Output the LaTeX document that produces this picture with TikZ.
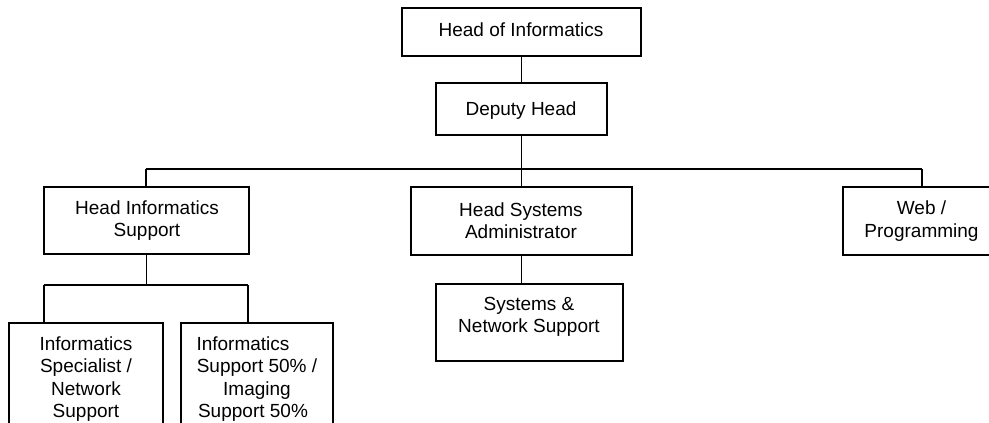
\documentclass[tikz,border=0pt]{standalone}
\usepackage{fontspec}
\setmainfont{Liberation Sans}
\begin{document}
\begin{tikzpicture}[x=1pt,y=-1pt,
  box/.style={draw=black, line width=1.6pt, inner sep=0pt},
  txt/.style={align=center, inner sep=0pt, font=\fontsize{19}{22.5}\selectfont},
  conn/.style={line width=1.6pt}]
\clip (0,0) rectangle (989,423);
\fill[white] (0,0) rectangle (989,423);
% boxes
\node[box, minimum width=239pt, minimum height=48pt] (hoi) at (521.5,32) {};
\node[box, minimum width=171pt, minimum height=52pt] (dh) at (521.5,109) {};
\node[box, minimum width=205pt, minimum height=67pt] (his) at (146.5,220.5) {};
\node[box, minimum width=221pt, minimum height=68pt] (hsa) at (521.5,221) {};
\node[box, minimum width=158pt, minimum height=68pt] (web) at (922,221) {};
\node[box, minimum width=187pt, minimum height=77pt] (sns) at (529.5,322.5) {};
\node[box, minimum width=154pt, minimum height=117pt] (lc) at (86,381.5) {};
\node[box, minimum width=152pt, minimum height=117pt] (rc) at (257,381.5) {};
% texts
\node[txt] (hoiT) at (521,29.5) {Head of Informatics};
\node[txt] (dhT) at (521,110.5) {Deputy Head};
\node[txt] (hisT) at (147,220.5) {Head Informatics\\Support};
\node[txt] (hsaT) at (521,220.5) {Head Systems\\Administrator};
\node[txt] (webT) at (921.5,221) {Web /\\Programming};
\node[txt] (snsT) at (529,317) {Systems \&\\Network Support};
\node[txt] (lcT) at (86,379) {Informatics\\Specialist /\\Network\\Support};
\node[txt] (rcT) at (257,379) {Informatics\rule{28pt}{0pt}\\Support 50\% /\\Imaging\\Support 50\%\rule{8pt}{0pt}};
% connectors
\coordinate (barL) at (146,169);
\coordinate (barR) at (922,169);
\coordinate (subL) at (44,285);
\coordinate (subR) at (248,285);
\draw[conn] (hoi.south) -- (dh.north);
\draw[conn] (dh.south) -- (hsa.north);
\draw[conn] (barL) -- (barR);
\draw[conn] (barL) -- (barL |- his.north);
\draw[conn] (barR) -- (web.north);
\draw[conn] (hsa.south) -- (hsa.south |- sns.north);
\draw[conn] (his.south) -- (his.south |- subL);
\draw[conn] (subL) -- (subR);
\draw[conn] (subL) -- (subL |- lc.north);
\draw[conn] (subR) -- (subR |- rc.north);
\end{tikzpicture}
\end{document}
